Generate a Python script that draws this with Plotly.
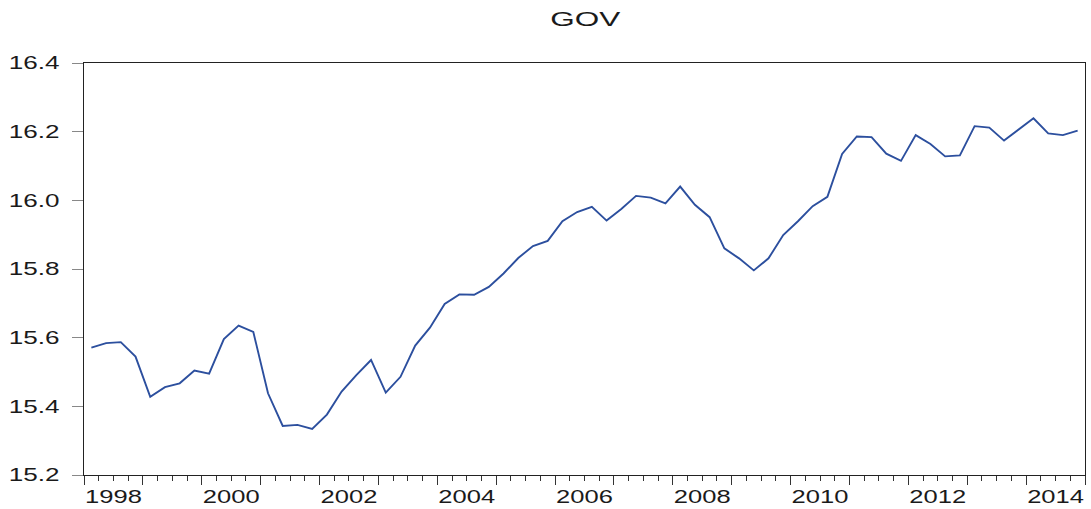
import plotly.graph_objects as go

# Quarterly GOV series, 1998Q1 - 2014Q4
start_year = 1998
end_year = 2014
gov = [
    15.571, 15.584, 15.587, 15.545, 15.428, 15.456, 15.467, 15.504,
    15.495, 15.596, 15.635, 15.617, 15.438, 15.343, 15.346, 15.334,
    15.376, 15.443, 15.491, 15.535, 15.440, 15.486, 15.577, 15.629,
    15.698, 15.726, 15.725, 15.748, 15.787, 15.832, 15.867, 15.882,
    15.939, 15.966, 15.981, 15.941, 15.975, 16.013, 16.008, 15.991,
    16.040, 15.987, 15.951, 15.860, 15.831, 15.796, 15.831, 15.899,
    15.939, 15.983, 16.010, 16.135, 16.186, 16.184, 16.136, 16.115,
    16.190, 16.164, 16.128, 16.131, 16.216, 16.212, 16.174, 16.206,
    16.239, 16.195, 16.190, 16.203,
]
year_labels = [str(y) for y in range(start_year, end_year + 1, 2)]
y_ticks = [15.2, 15.4, 15.6, 15.8, 16.0, 16.2, 16.4]

# each quarter is placed at the middle of its interval on a fractional-year axis
x_vals = [start_year + (i + 0.5) / 4 for i in range(len(gov))]
x_range = [start_year, end_year + 1]
label_pos = [int(y) + 0.5 for y in year_labels]

font_family = "Liberation Sans, Arial, sans-serif"
text_color = "#1a1a1a"

fig = go.Figure()
fig.add_trace(go.Scatter(
    x=x_vals, y=gov, mode="lines",
    line=dict(color="#2c4f9e", width=1.9),
    showlegend=False, hoverinfo="x+y",
))
# helper trace so the year-label axis is drawn
fig.add_trace(go.Scatter(
    x=[x_range[0]], y=[y_ticks[0]], xaxis="x2", mode="markers",
    marker=dict(opacity=0), showlegend=False, hoverinfo="skip",
))

fig.update_layout(
    width=1091, height=509,
    margin=dict(l=84, r=6, t=63, b=34, autoexpand=False),
    paper_bgcolor="white", plot_bgcolor="white",
    font=dict(family=font_family, size=18, color=text_color),
    title=dict(text="GOV", x=0.5365, xanchor="center", y=0.963, yanchor="middle",
               font=dict(size=21, color=text_color)),
    xaxis=dict(
        range=x_range, showgrid=False, zeroline=False, automargin=False,
        showline=True, linecolor="#222222", linewidth=1, mirror=True,
        tickmode="array", tickvals=list(range(start_year, end_year + 2)),
        ticktext=[""] * (end_year - start_year + 2),
        ticks="outside", ticklen=9, tickcolor="#333333", tickwidth=1,
        minor=dict(ticks="outside", ticklen=5, dtick=0.25, tick0=start_year,
                   tickcolor="#333333", tickwidth=1),
    ),
    xaxis2=dict(
        range=x_range, overlaying="x", side="bottom", showgrid=False,
        zeroline=False, showline=False, ticks="", automargin=False,
        tickmode="array", tickvals=label_pos, ticktext=year_labels,
        tickfont=dict(size=18, color=text_color), ticklabelstandoff=9,
    ),
    yaxis=dict(
        range=[15.2, 16.4], showgrid=False, zeroline=False, automargin=False,
        showline=True, linecolor="#222222", linewidth=1, mirror=True,
        tickmode="array", tickvals=y_ticks,
        ticktext=[f"{v:.1f}" for v in y_ticks],
        ticks="outside", ticklen=11, tickcolor="#888888", tickwidth=1,
        tickfont=dict(size=18, color=text_color), ticklabelstandoff=9,
    ),
)

# widen the label glyphs horizontally, keeping each label's anchor point fixed
widen_text = """
var gd = document.getElementById('{plot_id}');
function widen(sel, factor) {
  gd.querySelectorAll(sel).forEach(function (t) {
    var bb = t.getBBox();
    var anchor = t.getAttribute('text-anchor') || 'start';
    var cx = anchor === 'end' ? bb.x + bb.width
           : anchor === 'middle' ? bb.x + bb.width / 2 : bb.x;
    var base = t.getAttribute('transform') || '';
    t.setAttribute('transform', base + ' translate(' + cx + ',0) scale(' + factor +
                   ',1) translate(' + (-cx) + ',0)');
  });
}
widen('g.x2tick > text', 1.42);
widen('g.ytick > text', 1.45);
widen('text.gtitle', 1.5);
"""

fig.write_html("out.html", post_script=widen_text)
